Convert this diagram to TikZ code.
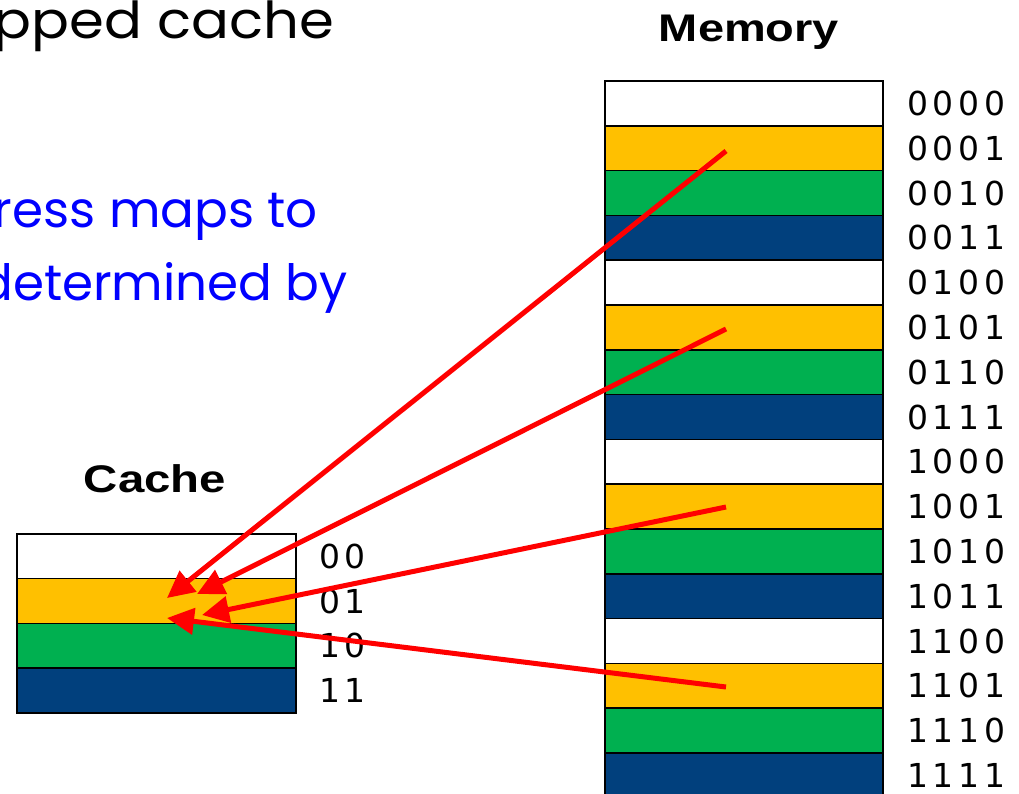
\documentclass[tikz,border=0pt]{standalone}
\usepackage{fontspec}
\usepackage{graphicx}
\setmainfont{DejaVu Sans}
\newfontfamily\labfont[LetterSpace=14]{DejaVu Sans}
\newfontfamily\headfont{Liberation Sans}
\newfontfamily\gothfont{Poppins}
\usetikzlibrary{arrows.meta}
\definecolor{cyel}{RGB}{255,192,0}
\definecolor{cgrn}{RGB}{0,176,80}
\definecolor{cnav}{RGB}{1,64,125}
\definecolor{cred}{RGB}{255,0,0}
\definecolor{cblu}{RGB}{0,0,255}
\begin{document}
\begin{tikzpicture}[x=1pt,y=-1pt,
  cell/.style={draw=black,line width=1.5pt,minimum width=278pt,minimum height=44.8pt,inner sep=0pt,outer sep=0pt},
  ccell/.style={draw=black,line width=1.5pt,minimum width=279pt,minimum height=44.7pt,inner sep=0pt,outer sep=0pt},
  lab/.style={anchor=base west,inner sep=0pt,font=\labfont\fontsize{33}{40}\selectfont},
  head/.style={anchor=base,inner sep=0pt,font=\headfont\bfseries\fontsize{38.5}{44}\selectfont},
  gtext/.style={anchor=base east,inner sep=0pt,font=\gothfont\fontsize{50}{60}\selectfont},
  arr/.style={draw=cred,line width=5pt,-{Triangle[length=27pt,width=26pt]}}
]
\useasboundingbox (0,0) rectangle (1019,793);

% text at top left
\node[gtext,text=black,font=\gothfont\fontsize{51}{60}\selectfont] (ttl) at (334,38) {\scalebox{1.1}[1]{pped cache}};
\node[gtext,text=cblu] (bl1) at (318,227) {ress maps to};
\node[gtext,text=cblu] (bl2) at (348,300) {determined by};

% headings
\node[head] (memh) at (749,41) {\scalebox{1.22}[1]{Memory}};
\node[head] (cach) at (155,492) {\scalebox{1.23}[1]{Cache}};

% memory
\foreach \i/\c/\t in {0/white/0000,1/cyel/0001,2/cgrn/0010,3/cnav/0011,
                      4/white/0100,5/cyel/0101,6/cgrn/0110,7/cnav/0111,
                      8/white/1000,9/cyel/1001,10/cgrn/1010,11/cnav/1011,
                      12/white/1100,13/cyel/1101,14/cgrn/1110,15/cnav/1111}{
  \node[cell,fill=\c] (m\i) at (744,{103.4+44.8*\i}) {};
  \node[lab] (ml\i) at (907,{115.4+44.8*\i}) {\t};
}

% cache
\foreach \i/\c/\t in {0/white/00,1/cyel/01,2/cgrn/10,3/cnav/11}{
  \node[ccell,fill=\c] (c\i) at (156.5,{556.35+44.7*\i}) {};
  \node[lab] (cl\i) at (319,{568.5+44.7*\i}) {\t};
}

% arrow end points
\coordinate (s1) at (726,151);
\coordinate (s2) at (726,329);
\coordinate (s3) at (726,507);
\coordinate (s4) at (726,687);
\coordinate (t1) at (167,598);
\coordinate (t2) at (197,594);
\coordinate (t3) at (202,615);
\coordinate (t4) at (167,618);

\draw[arr] (s1) -- (t1);
\draw[arr] (s2) -- (t2);
\draw[arr] (s3) -- (t3);
\draw[arr] (s4) -- (t4);
\end{tikzpicture}
\end{document}
